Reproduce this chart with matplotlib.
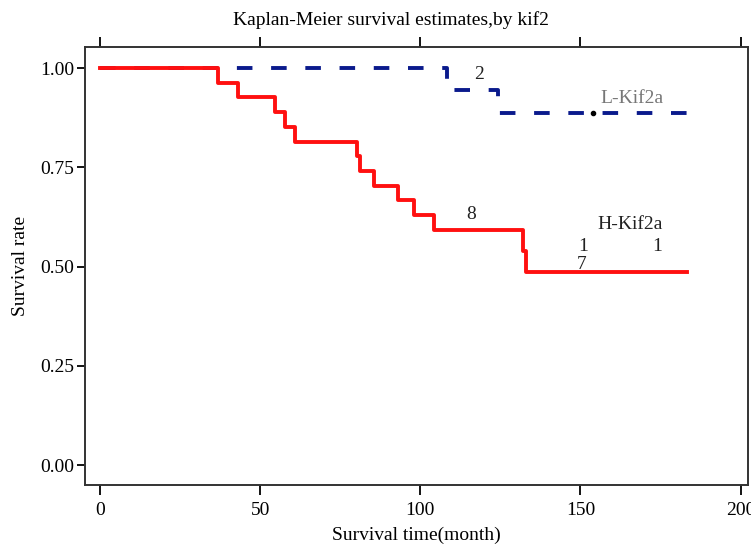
import matplotlib
matplotlib.use("Agg")
import matplotlib.pyplot as plt

plt.rcParams['font.family'] = ['Liberation Serif', 'DejaVu Serif']

# H-Kif2a step curve (time in months, survival)
h_time = [0, 36.9, 43.0, 54.7, 57.8, 60.9, 80.3, 81.3, 85.6, 92.9, 97.9, 104.2, 132.0, 132.9, 183.3]
h_surv = [1.0, 0.963, 0.926, 0.889, 0.852, 0.815, 0.778, 0.741, 0.704, 0.667, 0.629, 0.592, 0.540, 0.487, 0.487]

# L-Kif2a step curve
l_time = [0, 108.3, 124.2, 184.9]
l_surv = [1.0, 0.946, 0.886, 0.886]
l_censor_t = [153.8]
l_censor_s = [0.886]

# number annotations
num_text = ['2', '8', '1', '1', '7']
num_x = [118.4, 116.0, 150.8, 174.0, 150.5]
num_y = [0.985, 0.63, 0.55, 0.55, 0.505]

xticks = [0, 50, 100, 150, 200]
yticks = [0.0, 0.25, 0.5, 0.75, 1.0]

fig = plt.figure(figsize=(7.51, 5.46), dpi=100)
ax = fig.add_axes([0.1132, 0.1117, 0.8828, 0.8022])

blue, = ax.plot(l_time, l_surv, drawstyle='steps-post', color='#0a1a8c', lw=2.8)
blue.set_dashes([4.0, 4.8])
ax.plot(l_censor_t, l_censor_s, 'o', color='black', ms=3)
ax.plot(h_time, h_surv, drawstyle='steps-post', color='#ff1010', lw=2.8)

for t, x, y in zip(num_text, num_x, num_y):
    ax.text(x, y, t, fontsize=14, ha='center', va='center', color='#222222')
ax.text(166, 0.924, 'L-Kif2a', fontsize=14, ha='center', va='center', color='#777777')
ax.text(165.6, 0.607, 'H-Kif2a', fontsize=14, ha='center', va='center', color='#222222')

ax.set_xlim(-4.7, 202.3)
ax.set_ylim(-0.05, 1.053)
ax.set_xticks(xticks)
ax.set_xticklabels([str(v) for v in xticks])
ax.set_yticks(yticks)
ax.set_yticklabels(['%.2f' % v for v in yticks])
ax.tick_params(axis='x', direction='out', length=7, width=1.3, labelsize=14, top=True, pad=5)
ax.tick_params(axis='y', direction='out', length=6, width=1.3, labelsize=14, pad=2)
for s in ax.spines.values():
    s.set_linewidth(1.4)
    s.set_color('#333333')

ax.set_xlabel('Survival time(month)', fontsize=14, labelpad=6)
ax.set_ylabel('Survival rate', fontsize=14, labelpad=8)
fig.text(0.52, 0.963, 'Kaplan-Meier survival estimates,by kif2', fontsize=14, ha='center', va='center')

fig.savefig('out.png', dpi=100)
